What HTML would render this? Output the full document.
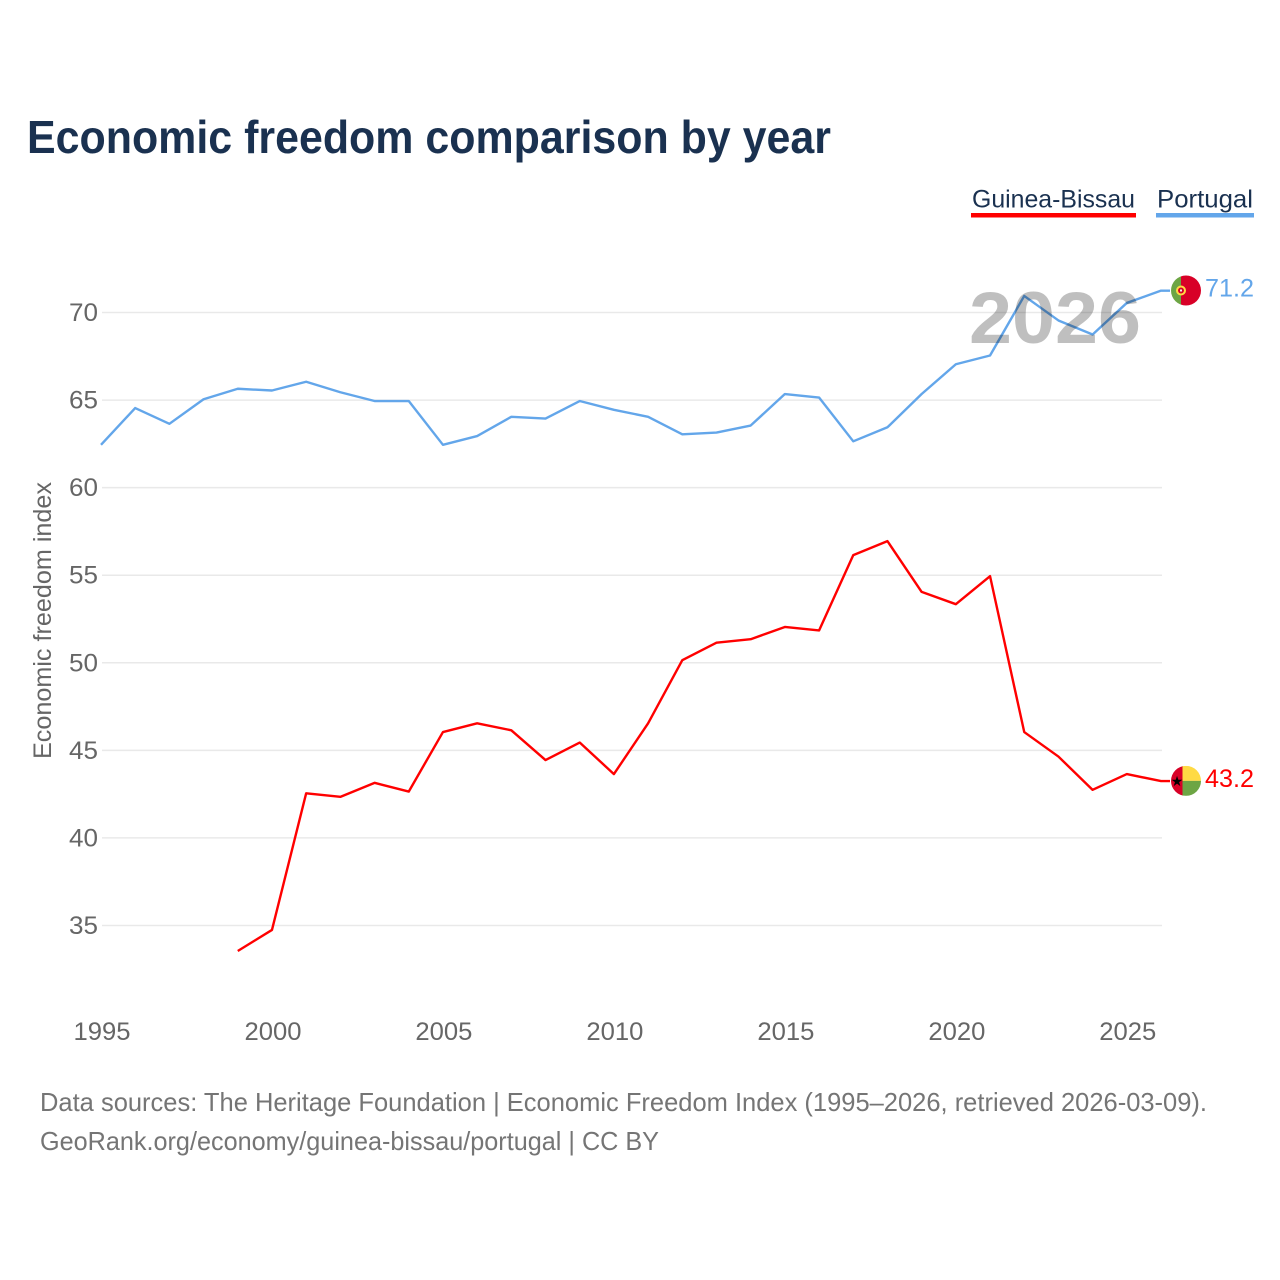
<!DOCTYPE html>
<html lang="en">
<head>
<meta charset="utf-8">
<title>Economic freedom comparison by year</title>
<style>
html,body{margin:0;padding:0;background:#fff;}
svg{display:block;font-family:"Liberation Sans",sans-serif;}
</style>
</head>
<body>
<svg id="chart" xmlns="http://www.w3.org/2000/svg" width="1280" height="1280" viewBox="0 0 1280 1280">
  <rect x="0" y="0" width="1280" height="1280" fill="#ffffff"/>
  <text x="27" y="153" font-size="46" font-weight="700" fill="#1a3150" textLength="804" lengthAdjust="spacingAndGlyphs">Economic freedom comparison by year</text>

  <g>
    <text x="972" y="207.5" font-size="25" fill="#1a3150" textLength="163" lengthAdjust="spacingAndGlyphs">Guinea-Bissau</text>
    <rect x="971" y="213" width="165" height="4.5" fill="#ff0000"/>
  </g>
  <g>
    <text x="1157" y="207.5" font-size="25" fill="#1a3150" textLength="96" lengthAdjust="spacingAndGlyphs">Portugal</text>
    <rect x="1156" y="213" width="98" height="4.5" fill="#63a6ea"/>
  </g>

  <g id="grid"></g>
  <g id="yticks"></g>
  <g id="xticks"></g>
  <text transform="translate(51,620.5) rotate(-90)" text-anchor="middle" font-size="25" fill="#666666" textLength="277" lengthAdjust="spacingAndGlyphs">Economic freedom index</text>

  <g id="series" transform="translate(-1,-0.8)"></g>

  <text x="969" y="343" font-size="73" font-weight="700" fill="#000000" fill-opacity="0.25" textLength="172" lengthAdjust="spacingAndGlyphs">2026</text>

  <defs>
    <clipPath id="flag-clip"><circle cx="0" cy="0" r="15"/></clipPath>
  </defs>

  <g id="flag-pt">
    <g clip-path="url(#flag-clip)">
      <rect x="-15" y="-15" width="10" height="30" fill="#6da544"/>
      <rect x="-5" y="-15" width="20" height="30" fill="#d80027"/>
      <circle cx="-5" cy="0" r="5" fill="#ffda44"/>
      <circle cx="-5" cy="0" r="3" fill="#d80027"/>
      <rect x="-6" y="-1" width="2" height="2" fill="#f0f0f0"/>
    </g>
  </g>
  <g id="flag-gw">
    <g clip-path="url(#flag-clip)">
      <rect x="-15" y="-15" width="12" height="30" fill="#d80027"/>
      <rect x="-3.5" y="-15" width="18.5" height="15" fill="#ffda44"/>
      <rect x="-3.5" y="0" width="18.5" height="15" fill="#6da544"/>
      <text x="-9" y="5" text-anchor="middle" font-size="14" fill="#000000" font-family="'DejaVu Sans',sans-serif">★</text>
    </g>
  </g>

  <text id="value-pt" x="1254" text-anchor="end" font-size="25" fill="#63a6ea" textLength="49" lengthAdjust="spacingAndGlyphs"></text>
  <text id="value-gw" x="1254" text-anchor="end" font-size="25" fill="#ff0000" textLength="49" lengthAdjust="spacingAndGlyphs"></text>

  <text x="40" y="1111" font-size="26" fill="#757575" textLength="1167" lengthAdjust="spacingAndGlyphs">Data sources: The Heritage Foundation | Economic Freedom Index (1995–2026, retrieved 2026-03-09).</text>
  <text x="40" y="1150" font-size="26" fill="#757575" textLength="619" lengthAdjust="spacingAndGlyphs">GeoRank.org/economy/guinea-bissau/portugal | CC BY</text>
</svg>
<script>
const years = [1995,1996,1997,1998,1999,2000,2001,2002,2003,2004,2005,2006,2007,2008,2009,2010,2011,2012,2013,2014,2015,2016,2017,2018,2019,2020,2021,2022,2023,2024,2025,2026];
const portugalValues = [62.4,64.5,63.6,65.0,65.6,65.5,66.0,65.4,64.9,64.9,62.4,62.9,64.0,63.9,64.9,64.4,64.0,63.0,63.1,63.5,65.3,65.1,62.6,63.4,65.3,67.0,67.5,70.9,69.5,68.7,70.5,71.2];
const guineaBissauValues = [null,null,null,null,33.5,34.7,42.5,42.3,43.1,42.6,46.0,46.5,46.1,44.4,45.4,43.6,46.5,50.1,51.1,51.3,52.0,51.8,56.1,56.9,54.0,53.3,54.9,46.0,44.6,42.7,43.6,43.2];
const yTickValues = [35,40,45,50,55,60,65,70];
const xTickValues = [1995,2000,2005,2010,2015,2020,2025];

const NS = 'http://www.w3.org/2000/svg';
const xLeft = 102, xRight = 1162, yearMin = 1995, yearMax = 2026;
const y70 = 312.5, y35 = 925.5;
function xScale(year) { return xLeft + (year - yearMin) * (xRight - xLeft) / (yearMax - yearMin); }
function yScale(value) { return y70 + (70 - value) * (y35 - y70) / 35; }

const gridGroup = document.getElementById('grid');
const yTickGroup = document.getElementById('yticks');
const xTickGroup = document.getElementById('xticks');
const seriesGroup = document.getElementById('series');

yTickValues.forEach(function (tick) {
  const line = document.createElementNS(NS, 'line');
  line.setAttribute('x1', xLeft);
  line.setAttribute('x2', xRight);
  line.setAttribute('y1', yScale(tick));
  line.setAttribute('y2', yScale(tick));
  line.setAttribute('stroke', '#e9e9e9');
  line.setAttribute('stroke-width', '1.5');
  
  
  gridGroup.appendChild(line);

  const label = document.createElementNS(NS, 'text');
  label.setAttribute('x', 98);
  label.setAttribute('y', yScale(tick) + 8.5);
  label.setAttribute('text-anchor', 'end');
  label.setAttribute('font-size', '25');
  label.setAttribute('fill', '#666666');
  label.setAttribute('textLength', '29');
  label.setAttribute('lengthAdjust', 'spacingAndGlyphs');
  
  
  label.textContent = String(tick);
  yTickGroup.appendChild(label);
});

xTickValues.forEach(function (tick) {
  const label = document.createElementNS(NS, 'text');
  label.setAttribute('x', xScale(tick));
  label.setAttribute('y', 1040);
  label.setAttribute('text-anchor', 'middle');
  label.setAttribute('font-size', '25');
  label.setAttribute('fill', '#666666');
  label.setAttribute('textLength', '57');
  label.setAttribute('lengthAdjust', 'spacingAndGlyphs');
  
  
  label.textContent = String(tick);
  xTickGroup.appendChild(label);
});

function seriesPoints(values) {
  const points = [];
  values.forEach(function (value, i) {
    if (value !== null) {
      points.push(xScale(years[i]).toFixed(2) + ',' + yScale(value).toFixed(2));
    }
  });
  return points;
}

function lastValue(values) {
  return values[values.length - 1];
}

function drawSeries(values, color, name) {
  const points = seriesPoints(values);
  const endY = yScale(lastValue(values));
  points.push((xRight + 9) + ',' + endY.toFixed(2));
  const line = document.createElementNS(NS, 'polyline');
  line.setAttribute('points', points.join(' '));
  line.setAttribute('fill', 'none');
  line.setAttribute('stroke', color);
  line.setAttribute('stroke-width', '2.4');
  line.setAttribute('stroke-linejoin', 'round');
  
  
  seriesGroup.appendChild(line);
}

drawSeries(portugalValues, '#63a6ea', 'portugal-line');
drawSeries(guineaBissauValues, '#ff0000', 'guinea-bissau-line');

const portugalEnd = lastValue(portugalValues);
const guineaEnd = lastValue(guineaBissauValues);
document.getElementById('flag-pt').setAttribute('transform', 'translate(1186,' + (yScale(portugalEnd) - 1) + ')');
document.getElementById('flag-gw').setAttribute('transform', 'translate(1186,' + (yScale(guineaEnd) - 1) + ')');
const portugalLabel = document.getElementById('value-pt');
portugalLabel.setAttribute('y', yScale(portugalEnd) + 5);
portugalLabel.textContent = portugalEnd.toFixed(1);
const guineaLabel = document.getElementById('value-gw');
guineaLabel.setAttribute('y', yScale(guineaEnd) + 5);
guineaLabel.textContent = guineaEnd.toFixed(1);
</script>
</body>
</html>
